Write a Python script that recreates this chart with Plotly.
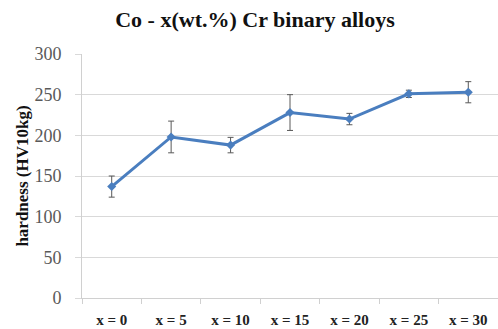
import plotly.graph_objects as go

categories = ["x = 0", "x = 5", "x = 10", "x = 15", "x = 20", "x = 25", "x = 30"]
hardness = [137, 198, 188, 228, 220, 251, 253]
errors = [13, 19.5, 9.5, 22, 7, 4.5, 13]
y_ticks = [0, 50, 100, 150, 200, 250, 300]

serif = "Liberation Serif, Times New Roman, serif"

fig = go.Figure()
fig.add_trace(go.Scatter(
    x=categories, y=hardness,
    mode="lines+markers",
    line=dict(color="#4a7ebf", width=3),
    marker=dict(symbol="diamond", size=7, color="#4a7ebf"),
    error_y=dict(type="data", array=errors, visible=True, color="#595959", thickness=1, width=3),
    showlegend=False,
))

fig.update_layout(
    width=498, height=329,
    margin=dict(l=82, r=0, t=54, b=31),
    paper_bgcolor="white", plot_bgcolor="white",
    title=dict(text="<b>Co - x(wt.%) Cr binary alloys</b>", x=0.512, xanchor="center",
               y=0.94, yanchor="middle",
               font=dict(family=serif, size=22, color="#111111")),
    xaxis=dict(
        type="category", range=[-0.5, 6.5],
        showgrid=False, showline=True, linecolor="#d0d0d0", linewidth=1,
        ticks="outside", tickson="boundaries", ticklen=5, tickcolor="#d0d0d0",
        tickfont=dict(family=serif, size=15, color="#222222"),
        tickprefix="<b>", ticksuffix="</b>",
        ticklabelstandoff=8,
    ),
    yaxis=dict(
        range=[0, 300], tickvals=y_ticks,
        showgrid=True, gridcolor="#d9d9d9", gridwidth=1,
        showline=True, linecolor="#d0d0d0", linewidth=1,
        ticks="outside", ticklen=6, tickcolor="#d9d9d9",
        tickfont=dict(family=serif, size=18, color="#595959"),
        ticklabelstandoff=10,
        zeroline=False,
        title=dict(text="<b>hardness (HV10kg)</b>", font=dict(family=serif, size=17, color="#111111"), standoff=1),
    ),
)

fig.write_html("out.html")
